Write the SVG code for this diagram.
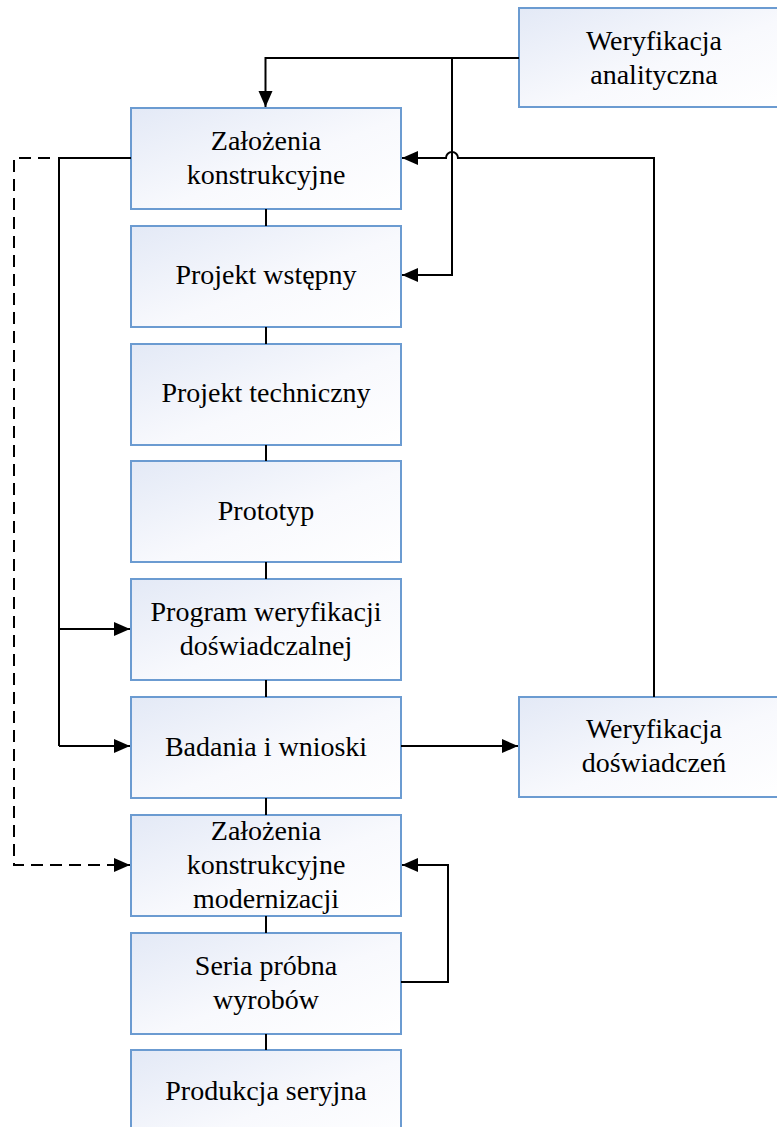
<svg xmlns="http://www.w3.org/2000/svg" width="777" height="1127" viewBox="0 0 777 1127">
<style>
.node rect{fill:url(#g);stroke:#6b9bd1;stroke-width:2}
.node text{font-family:'Liberation Serif','Times New Roman','DejaVu Serif',serif;font-size:28px;fill:#000;text-anchor:middle}
.c{fill:none;stroke:#000;stroke-width:2}
.a{marker-end:url(#ah)}
.d{stroke-dasharray:12,7}
</style>
<defs>
<linearGradient id="g" x1="0" y1="0" x2="1" y2="1">
<stop offset="0" stop-color="#e3e9f6"/>
<stop offset="0.55" stop-color="#f8f9fd"/>
<stop offset="1" stop-color="#ffffff"/>
</linearGradient>
<marker id="ah" markerUnits="userSpaceOnUse" markerWidth="17" markerHeight="15" refX="16" refY="7" orient="auto">
<path d="M0,0 L16,7 L0,14 z" fill="#000"/>
</marker>
</defs>
<rect width="777" height="1127" fill="#fff"/>
<g id="n1" class="node"><rect x="131" y="108" width="270" height="101"/><text x="266" y="150">Założenia</text><text x="266" y="184">konstrukcyjne</text></g>
<g id="n2" class="node"><rect x="131" y="226" width="270" height="101"/><text x="266" y="284">Projekt wstępny</text></g>
<g id="n3" class="node"><rect x="131" y="344" width="270" height="101"/><text x="266" y="402">Projekt techniczny</text></g>
<g id="n4" class="node"><rect x="131" y="461" width="270" height="101"/><text x="266" y="520">Prototyp</text></g>
<g id="n5" class="node"><rect x="131" y="579" width="270" height="101"/><text x="266" y="621">Program weryfikacji</text><text x="266" y="655">doświadczalnej</text></g>
<g id="n6" class="node"><rect x="131" y="697" width="270" height="101"/><text x="266" y="756">Badania i wnioski</text></g>
<g id="n7" class="node"><rect x="131" y="815" width="270" height="101"/><text x="266" y="840">Założenia</text><text x="266" y="874">konstrukcyjne</text><text x="266" y="908">modernizacji</text></g>
<g id="n8" class="node"><rect x="131" y="933" width="270" height="101"/><text x="266" y="975">Seria próbna</text><text x="266" y="1009">wyrobów</text></g>
<g id="n9" class="node"><rect x="131" y="1050" width="270" height="101"/><text x="266" y="1100">Produkcja seryjna</text></g>
<g id="n10" class="node"><rect x="519" y="8" width="270" height="99"/><text x="654" y="50">Weryfikacja</text><text x="654" y="84">analityczna</text></g>
<g id="n11" class="node"><rect x="519" y="697" width="270" height="100"/><text x="654" y="738">Weryfikacja</text><text x="654" y="772">doświadczeń</text></g>
<g id="connectors">
<path class="c" d="M266,209 V226 M266,327 V344 M266,445 V461 M266,562 V579 M266,680 V697 M266,798 V815 M266,916 V933 M266,1034 V1050"/>
<path class="c a" d="M519,58 H265.5 V107"/>
<path class="c a" d="M452,58 V275 H402"/>
<path class="c a" d="M654,697 V158 H458 A6,6 0 0 0 446,158 H402"/>
<path class="c" d="M131,158 H59 V746"/>
<path class="c a" d="M59,629 H130"/>
<path class="c a" d="M59,746 H130"/>
<path class="c d a" d="M50,158 H14 V865 H130"/>
<path class="c a" d="M401,746 H518"/>
<path class="c a" d="M401,982 H448 V865 H402"/>
</g>
</svg>
